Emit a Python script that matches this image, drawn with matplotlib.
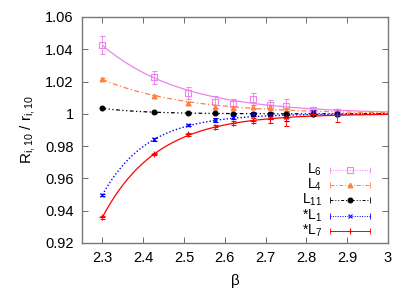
import numpy as np
import matplotlib
matplotlib.use("Agg")
import matplotlib.pyplot as plt

plt.rcParams['font.family'] = ['Liberation Sans', 'DejaVu Sans']
plt.rcParams['mathtext.fontset'] = 'custom'
plt.rcParams['mathtext.rm'] = 'Liberation Sans'
plt.rcParams['mathtext.it'] = 'Liberation Sans'

beta = [2.3, 2.427, 2.51, 2.575, 2.62, 2.67, 2.71, 2.75, 2.815, 2.875]

r_L6 = [1.0427, 1.0226, 1.0129, 1.0075, 1.0061, 1.0092, 1.0055, 1.0050, 1.0024, 1.0010]
e_L6 = [0.0057, 0.0042, 0.0040, 0.0037, 0.0030, 0.0040, 0.0030, 0.0040, 0.0020, 0.0020]
r_L4 = [1.0216, 1.0109, 1.0065, 1.0044, 1.0038, 1.0044, 1.0040, 1.0020, 1.0012, 1.0005]
e_L4 = [0.0008, 0.0008, 0.0008, 0.0010, 0.0010, 0.0012, 0.0015, 0.0015, 0.0010, 0.0010]
r_L11 = [1.0034, 1.0010, 1.0005, 1.0003, 1.0000, 1.0000, 1.0000, 1.0000, 1.0000, 1.0000]
e_L11 = [0.0004, 0.0004, 0.0004, 0.0004, 0.0004, 0.0004, 0.0004, 0.0004, 0.0004, 0.0004]
r_L1 = [0.9497, 0.9842, 0.9931, 0.9962, 0.9979, 0.9999, 0.9990, 0.9980, 1.0013, 1.0000]
e_L1 = [0.0008, 0.0008, 0.0008, 0.0010, 0.0010, 0.0012, 0.0020, 0.0025, 0.0012, 0.0012]
r_L7 = [0.9359, 0.9751, 0.9873, 0.9917, 0.9941, 0.9958, 0.9966, 0.9972, 1.0000, 0.9990]
e_L7 = [0.0008, 0.0008, 0.0010, 0.0012, 0.0012, 0.0015, 0.0020, 0.0045, 0.0015, 0.0040]

labels = ['L$_6$', 'L$_4$', 'L$_{11}$', '*L$_1$', '*L$_7$']

series = [
    (r_L6, e_L6, '#ee82ee', 's', 5, 'none', (0, ()), 0.9),
    (r_L4, e_L4, '#ff8040', '^', 3.5, '#ff8040', (0, (4, 2, 1, 2)), 0.9),
    (r_L11, e_L11, 'black', 'o', 3.5, 'black', (0, (3, 2, 1, 2, 1, 2)), 0.9),
    (r_L1, e_L1, '#0000ff', 'x', 3, '#0000ff', (0, (1, 1.5)), 1.0),
    (r_L7, e_L7, '#ff0000', '+', 4, '#ff0000', (0, ()), 0.9),
]
legend_ls = [(0, (1, 1.5)), (0, (4, 2, 1, 2)), (0, (3, 2, 1, 2, 1, 2)),
             (0, (1, 1.5)), '-']

fig = plt.figure(figsize=(4.15, 2.91), dpi=100)
ax = fig.add_axes([0.1976, 0.165, 0.7374, 0.7766])

b = np.array(beta)
bfine = np.linspace(2.3, 3.0, 200)
for vals, errs, col, mk, ms, mfc, ls, lw in series:
    v = np.array(vals)
    d = v - 1.0
    sign = np.sign(d[0])
    keep = sign * d > 0.0004
    # exponential approach to 1, weighted toward the big deviations
    k, c = np.polyfit(b[keep] - 2.3, np.log(sign * d[keep]), 1,
                      w=sign * d[keep])
    ax.plot(bfine, 1.0 + sign * np.exp(c + k * (bfine - 2.3)), color=col, lw=lw,
            linestyle=ls)
    ax.errorbar(beta, vals, yerr=errs, fmt=mk, color=col, ms=ms, mfc=mfc,
                mew=0.8, elinewidth=0.6, capsize=1.8, capthick=0.6)

# legend drawn gnuplot style: right-aligned label, then sample with caps
rows_y = [0.325, 0.257, 0.189, 0.121, 0.053]
for (vals, errs, col, mk, ms, mfc, ls, lw), lab, yy, lls in zip(series, labels,
                                                               rows_y, legend_ls):
    ax.text(0.785, yy, lab, transform=ax.transAxes, ha='right', va='center',
            fontsize=10)
    ax.plot([0.81, 0.941], [yy, yy], transform=ax.transAxes, color=col, lw=0.7,
            linestyle=lls, clip_on=False)
    ax.plot([0.81, 0.941], [yy, yy], transform=ax.transAxes, color=col, lw=0,
            marker='|', ms=4, mew=0.6, clip_on=False)
    ax.plot([0.8755], [yy], transform=ax.transAxes, color=col, marker=mk,
            ms=ms, mfc=mfc, mew=0.8, lw=0, clip_on=False)

ax.set_xlim(2.25, 3.0)
ax.set_ylim(0.92, 1.06)
ax.set_xticks([2.3, 2.4, 2.5, 2.6, 2.7, 2.8, 2.9, 3.0])
ax.set_xticklabels(['2.3', '2.4', '2.5', '2.6', '2.7', '2.8', '2.9', '3'])
ax.set_yticks([0.92, 0.94, 0.96, 0.98, 1.0, 1.02, 1.04, 1.06])
ax.set_yticklabels(['0.92', '0.94', '0.96', '0.98', '1', '1.02', '1.04', '1.06'])
ax.tick_params(direction='in', top=True, right=True, length=4, width=0.6,
               labelsize=10.5, pad=6, color='#555555')
for sp in ax.spines.values():
    sp.set_color('#777777')
    sp.set_linewidth(1.0)

ax.set_xlabel('β', fontsize=11, labelpad=6)
ax.set_ylabel('R$_{i,10}$ / r$_{i,10}$', fontsize=11, labelpad=6)

fig.savefig('out.png', dpi=100)
